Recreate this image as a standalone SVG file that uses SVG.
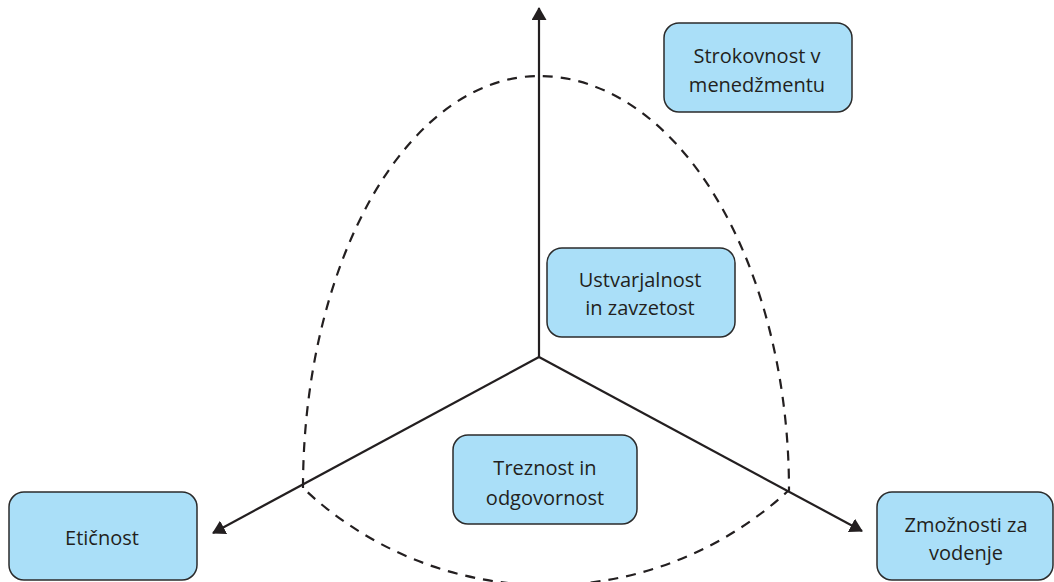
<svg xmlns="http://www.w3.org/2000/svg" width="1054" height="582" viewBox="0 0 1054 582">
<style>
.box{fill:#aadff8;stroke:#2b2b2b;stroke-width:1.5}
.lbl{font-family:"Open Sans","Liberation Sans",sans-serif;font-size:20px;fill:#231f20;text-anchor:middle}
.axis{stroke:#231f20;stroke-width:2.2;fill:none}
.dash{stroke:#231f20;stroke-width:2.2;fill:none;stroke-dasharray:10 8}
</style>
<defs>
<marker id="arr" viewBox="0 0 13 15" refX="12" refY="7.5" markerWidth="13" markerHeight="15" markerUnits="userSpaceOnUse" orient="auto">
<path d="M0,0 L13,7.5 L0,15 Z" fill="#231f20"/>
</marker>
</defs>
<rect width="1054" height="582" fill="#ffffff"/>
<g id="connectors">
<path class="dash" d="M303,488 A236,412 0 0 1 539,76 A250,414 0 0 1 789,490 A355,355 0 0 1 303,488"/>
<line class="axis" x1="539" y1="357" x2="539" y2="8" marker-end="url(#arr)"/>
<line class="axis" x1="539" y1="357" x2="213" y2="533" marker-end="url(#arr)"/>
<line class="axis" x1="539" y1="357" x2="862" y2="531" marker-end="url(#arr)"/>
</g>
<g id="n-strokovnost">
<rect class="box" x="664" y="23" width="188" height="89" rx="15"/>
<text class="lbl" x="757" y="63">Strokovnost v</text>
<text class="lbl" x="757" y="92">menedžmentu</text>
</g>
<g id="n-ustvarjalnost">
<rect class="box" x="547" y="248" width="188" height="89" rx="15"/>
<text class="lbl" x="640" y="287">Ustvarjalnost</text>
<text class="lbl" x="640" y="315">in zavzetost</text>
</g>
<g id="n-treznost">
<rect class="box" x="453" y="435" width="184" height="89" rx="15"/>
<text class="lbl" x="545" y="475">Treznost in</text>
<text class="lbl" x="545" y="505">odgovornost</text>
</g>
<g id="n-eticnost">
<rect class="box" x="9" y="492" width="188" height="88" rx="15"/>
<text class="lbl" x="102" y="545">Etičnost</text>
</g>
<g id="n-zmoznosti">
<rect class="box" x="877" y="492" width="176" height="88" rx="15"/>
<text class="lbl" x="966" y="532">Zmožnosti za</text>
<text class="lbl" x="966" y="560">vodenje</text>
</g>
</svg>
